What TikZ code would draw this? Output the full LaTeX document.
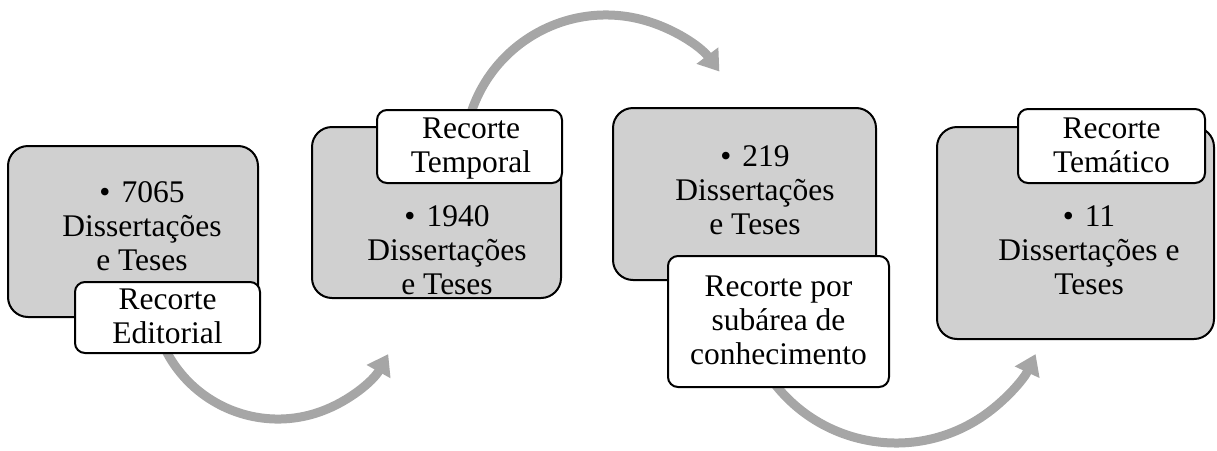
\documentclass[tikz,border=0pt]{standalone}
\usepackage{fontspec}
\setmainfont{Liberation Serif}
\usetikzlibrary{arrows.meta}
\definecolor{boxgray}{HTML}{D0D0D0}
\definecolor{flowgray}{HTML}{A6A6A6}
% bullet line of a stage box, with the list's wider gap and left shift
\newcommand{\bulletline}[1]{•\hspace{11pt}#1\hspace{24pt}}

\begin{document}
\begin{tikzpicture}[x=1pt,y=1pt,
  stage/.style={draw=black, line width=2pt, fill=boxgray, rounded corners=20pt, inner sep=0pt},
  tag/.style={draw=black, line width=2pt, fill=white, rounded corners=10pt, inner sep=0pt},
  txt/.style={align=center, inner sep=0pt, font=\fontsize{31.5}{34}\selectfont},
  flow/.style={draw=flowgray, line width=9pt, -{Triangle[length=20pt,width=26pt]}}]
\useasboundingbox (0,0) rectangle (1217,-450);

% centres of the curved flow arrows
\coordinate (c1) at (278,-293);
\coordinate (c2) at (606,-157);
\coordinate (c3) at (896,-289);

% curved arrows between the stages (drawn first, boxes cover their tails)
\draw[flow] ([shift={(-160:126pt)}]c1) arc[start angle=-160, end angle=-29, radius=126pt];
\draw[flow] ([shift={(165:142pt)}]c2) arc[start angle=165, end angle=37, radius=142pt];
\draw[flow] ([shift={(-145:154pt)}]c3) arc[start angle=-145, end angle=-25, radius=154pt];

% stage boxes
\node[stage, minimum width=250pt, minimum height=171pt] (s1) at (133,-231.5) {};
\node[stage, minimum width=249pt, minimum height=171pt] (s2) at (436.5,-212.5) {};
\node[stage, minimum width=263pt, minimum height=172pt] (s3) at (744.5,-194) {};
\node[stage, minimum width=277pt, minimum height=212pt] (s4) at (1075.5,-233) {};

% cut labels
\node[tag, minimum width=185pt, minimum height=71pt] (l1) at (167.5,-317.5) {};
\node[tag, minimum width=185pt, minimum height=73pt] (l2) at (469.5,-146.5) {};
\node[tag, minimum width=221pt, minimum height=131pt] (l3) at (778.5,-321.5) {};
\node[tag, minimum width=187pt, minimum height=74pt] (l4) at (1111.5,-146) {};

% texts
\node[txt] (t1) at (142,-226) {\bulletline{7065}\\Dissertações\\e Teses};
\node[txt] (t2) at (447,-250.5) {\bulletline{1940}\\Dissertações\\e Teses};
\node[txt] (t3) at (755,-190.5) {\bulletline{219}\\Dissertações\\e Teses};
\node[txt] (t4) at (1089,-250.5) {\bulletline{11}\\Dissertações e\\Teses};

\node[txt] (r1) at (167.5,-316) {Recorte\\Editorial};
\node[txt] (r2) at (471,-149) {Recorte\\Temporal};
\node[txt] (r3) at (778.5,-320.5) {Recorte por\\subárea de\\conhecimento};
\node[txt] (r4) at (1111.5,-145.5) {Recorte\\Temático};
\end{tikzpicture}
\end{document}
